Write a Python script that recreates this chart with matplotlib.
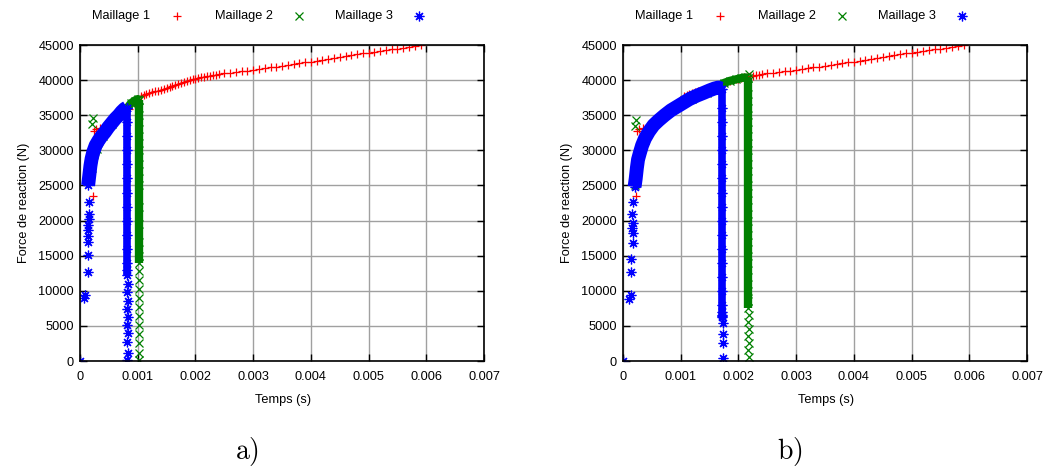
import numpy as np
import matplotlib
matplotlib.use("Agg")
import matplotlib.pyplot as plt

plt.rcParams['font.family'] = ['Liberation Sans', 'DejaVu Sans']
plt.rcParams['mathtext.fontset'] = 'cm'

# --- data (time in ms, force in N) ---
# Maillage 1 (same curve in both runs)
m1_t = [0.22, 0.24, 0.28, 0.35, 0.45, 0.55, 0.65, 0.75, 0.85, 0.95, 1.00,
        1.05, 1.10, 1.15, 1.20, 1.25, 1.30, 1.35, 1.40, 1.45, 1.50, 1.55,
        1.60, 1.65, 1.70, 1.75, 1.80, 1.85, 1.90, 1.95, 2.00, 2.05, 2.10,
        2.15, 2.20, 2.25, 2.30, 2.35, 2.40, 2.50, 2.60, 2.70, 2.80, 2.90,
        3.00, 3.10, 3.20, 3.30, 3.40, 3.50, 3.60, 3.70, 3.80, 3.90, 4.00,
        4.10, 4.20, 4.30, 4.40, 4.50, 4.60, 4.70, 4.80, 4.90, 5.00, 5.10,
        5.20, 5.30, 5.40, 5.50, 5.60, 5.70, 5.80, 5.90]
m1_f = [23500, 32800, 33000, 33200, 33600, 34100, 34700, 35300, 35900, 36500, 37200,
        37750, 37900, 38020, 38150, 38270, 38400, 38520, 38650, 38770, 38900, 39020,
        39150, 39300, 39450, 39600, 39750, 39880, 40000, 40100, 40200, 40300, 40400,
        40500, 40580, 40650, 40720, 40790, 40860, 40950, 41050, 41150, 41250, 41350,
        41450, 41570, 41690, 41810, 41930, 42050, 42170, 42290, 42410, 42530, 42650,
        42780, 42910, 43040, 43170, 43300, 43430, 43560, 43690, 43810, 43930, 44050,
        44170, 44290, 44400, 44510, 44620, 44730, 44840, 44950]

# a) Maillage 2
m2a_curve_t = [0.20, 0.29, 0.40, 0.55, 0.70, 0.80, 0.88, 0.95, 1.00, 1.02]
m2a_curve_f = [27500, 30200, 32000, 33800, 35000, 35800, 36700, 37100, 37300, 37200]
m2a_drop_t = [1.02, 1.02, 1.02, 1.02, 1.02, 1.02, 1.02, 1.02, 1.02, 1.02, 1.02, 1.02]
m2a_drop_f = [37200, 35000, 33000, 31000, 29000, 27000, 25000, 22000, 19500, 17000, 15000, 14000]
m2a_pts_t = [0.23, 0.21, 1.03, 1.02, 1.03, 1.02, 1.03, 1.02, 1.03, 1.02, 1.03, 1.02, 1.03]
m2a_pts_f = [34550, 33800, 12800, 11500, 10200, 9000, 7700, 6400, 5100, 3800, 2500, 1200, 100]

# a) Maillage 3
m3a_curve_t = [0.14, 0.16, 0.18, 0.20, 0.23, 0.27, 0.32, 0.37, 0.43, 0.49, 0.55, 0.61,
               0.67, 0.72, 0.77, 0.81]
m3a_curve_f = [25000, 26400, 27800, 28800, 29800, 30700, 31400, 32000, 32600, 33300, 33900, 34500,
               35000, 35500, 35900, 36100]
m3a_drop_t = [0.82, 0.82, 0.82, 0.82, 0.82, 0.82, 0.82, 0.82, 0.82, 0.82, 0.82, 0.82, 0.82, 0.82]
m3a_drop_f = [36100, 34000, 32000, 30000, 28000, 26000, 24000, 22000, 20000, 18000, 16000, 14000,
              13000, 12300]
m3a_pts_t = [0.00, 0.07, 0.09, 0.13, 0.13, 0.14, 0.13, 0.14, 0.13, 0.15, 0.15, 0.15,
             0.83, 0.82, 0.83, 0.82, 0.83, 0.82, 0.83, 0.82, 0.83, 0.82]
m3a_pts_f = [0, 9000, 9400, 12700, 15100, 17000, 17800, 18600, 19400, 20200, 21000, 22700,
             11000, 9800, 8600, 7400, 6200, 5200, 4000, 2700, 1200, 100]

# b) Maillage 2
m2b_curve_t = [0.20, 0.24, 0.29, 0.38, 0.53, 0.72, 0.95, 1.20, 1.45, 1.62, 1.75, 1.85,
               1.95, 2.05, 2.12, 2.16]
m2b_curve_f = [25000, 27200, 29200, 31500, 33700, 35100, 36300, 37300, 38200, 39000, 39600, 39900,
               40100, 40300, 40400, 40300]
m2b_drop_t = [2.17, 2.17, 2.17, 2.17, 2.17, 2.17, 2.17, 2.17, 2.17, 2.17, 2.17, 2.17,
              2.17, 2.17, 2.17, 2.17, 2.17, 2.17]
m2b_drop_f = [40300, 38000, 36000, 34000, 32000, 30000, 28000, 26000, 24000, 22000, 20000, 18000,
              16000, 14000, 12000, 10000, 8500, 7500]
m2b_pts_t = [0.22, 0.21, 2.18, 2.18, 2.17, 2.18, 2.17, 2.18, 2.17, 2.18]
m2b_pts_f = [34300, 33500, 40900, 6500, 5500, 4500, 3500, 2500, 1500, 500]

# b) Maillage 3
m3b_curve_t = [0.20, 0.22, 0.24, 0.26, 0.29, 0.33, 0.38, 0.45, 0.53, 0.62, 0.72, 0.83,
               0.95, 1.03, 1.15, 1.28, 1.40, 1.50, 1.58, 1.65, 1.70]
m3b_curve_f = [24800, 26000, 27500, 28700, 29600, 30700, 31700, 32700, 33600, 34300, 35000, 35700,
               36300, 36700, 37300, 37800, 38200, 38550, 38800, 38950, 38800]
m3b_drop_t = [1.72, 1.72, 1.72, 1.72, 1.72, 1.72, 1.72, 1.72, 1.72, 1.72, 1.72, 1.72,
              1.72, 1.72, 1.72, 1.72, 1.72, 1.72, 1.72, 1.72]
m3b_drop_f = [38800, 36000, 34000, 32000, 30000, 28000, 26000, 24000, 22000, 20000, 18000, 16000,
              14000, 12000, 10000, 8000, 7000, 6600, 6400, 6300]
m3b_pts_t = [0.00, 0.10, 0.13, 0.145, 0.145, 0.18, 0.18, 0.16, 0.18, 0.15, 0.18,
             1.73, 1.73, 1.73, 1.73]
m3b_pts_f = [0, 8900, 9400, 12700, 14500, 16850, 18200, 18900, 19600, 20900, 22700,
             5400, 3900, 2500, 400]

panels = [
    ("a)",
     (m2a_curve_t, m2a_curve_f, m2a_drop_t, m2a_drop_f, m2a_pts_t, m2a_pts_f),
     (m3a_curve_t, m3a_curve_f, m3a_drop_t, m3a_drop_f, m3a_pts_t, m3a_pts_f)),
    ("b)",
     (m2b_curve_t, m2b_curve_f, m2b_drop_t, m2b_drop_f, m2b_pts_t, m2b_pts_f),
     (m3b_curve_t, m3b_curve_f, m3b_drop_t, m3b_drop_f, m3b_pts_t, m3b_pts_f)),
]

red = '#ff0000'
green = '#008000'
blue = '#0000ff'
star = (8, 2, 0)

xticks = [0, 0.001, 0.002, 0.003, 0.004, 0.005, 0.006, 0.007]
xticklabels = ['0', '0.001', '0.002', '0.003', '0.004', '0.005', '0.006', '0.007']
yticks = [0, 5000, 10000, 15000, 20000, 25000, 30000, 35000, 40000, 45000]

fig = plt.figure(figsize=(10.45, 4.66), dpi=100)
lefts = [0.0766, 0.5962]
ms = 1e-3

for left, (tag, m2, m3) in zip(lefts, panels):
    ax = fig.add_axes([left, 0.2253, 0.3866, 0.678])

    # Maillage 1
    ax.plot(np.array(m1_t) * ms, m1_f, ls='none', marker='+', ms=6, mew=0.9, color=red)

    # Maillage 2: dense band, vertical drop, isolated points
    ax.plot(np.array(m2[0]) * ms, m2[1], '-', lw=6, color=green,
            solid_joinstyle='round', solid_capstyle='butt')
    ax.plot(np.array(m2[2]) * ms, m2[3], '-', lw=6, color=green, solid_capstyle='butt')
    for tt, ff in [(m2[0], m2[1]), (m2[2], m2[3]), (m2[4], m2[5])]:
        ax.plot(np.array(tt) * ms, ff, ls='none', marker='x', ms=5.5, mew=0.9, color=green)

    # Maillage 3
    ax.plot(np.array(m3[0]) * ms, m3[1], '-', lw=10, color=blue,
            solid_joinstyle='round', solid_capstyle='butt')
    ax.plot(np.array(m3[2]) * ms, m3[3], '-', lw=5.5, color=blue, solid_capstyle='butt')
    for tt, ff in [(m3[0], m3[1]), (m3[2], m3[3]), (m3[4], m3[5])]:
        ax.plot(np.array(tt) * ms, ff, ls='none', marker=star, ms=7, mew=0.9, color=blue)

    ax.set_xlim(0, 0.007)
    ax.set_ylim(0, 45000)
    ax.set_xticks(xticks)
    ax.set_xticklabels(xticklabels)
    ax.set_yticks(yticks)
    ax.set_yticklabels([str(v) for v in yticks])
    ax.grid(True, color='#a0a0a0', lw=1)
    ax.set_axisbelow(True)
    ax.tick_params(direction='in', length=5, width=1, top=True, right=True,
                   labelsize=9.2, colors='black')
    ax.tick_params(axis='x', pad=7)
    ax.tick_params(axis='y', pad=4.5)
    for s in ax.spines.values():
        s.set_linewidth(1.2)

    ax.text(0.502, -0.123, 'Temps (s)', transform=ax.transAxes,
            ha='center', va='center', fontsize=9.2)
    ax.text(-0.139, 0.5, 'Force de reaction (N)', transform=ax.transAxes,
            rotation=90, ha='center', va='center', fontsize=9.2)

    # legend row above the plot
    names = ['Maillage 1', 'Maillage 2', 'Maillage 3']
    styles = [('+', red, 6), ('x', green, 5.5), (star, blue, 7)]
    text_x = [0.173, 0.478, 0.775]
    mark_x = [0.240, 0.542, 0.839]
    for name, (mk, col, size), tx, mx in zip(names, styles, text_x, mark_x):
        ax.text(tx, 1.092, name, transform=ax.transAxes, ha='right', va='center',
                fontsize=9.2)
        ax.plot([mx], [1.092], transform=ax.transAxes, marker=mk, ms=size, mew=0.9,
                color=col, clip_on=False, ls='none')

    fig.text(left + 0.16, 0.032, r'$\mathrm{' + tag + '}$', ha='center', va='center',
             fontsize=20)

fig.savefig('out.png', dpi=100)
